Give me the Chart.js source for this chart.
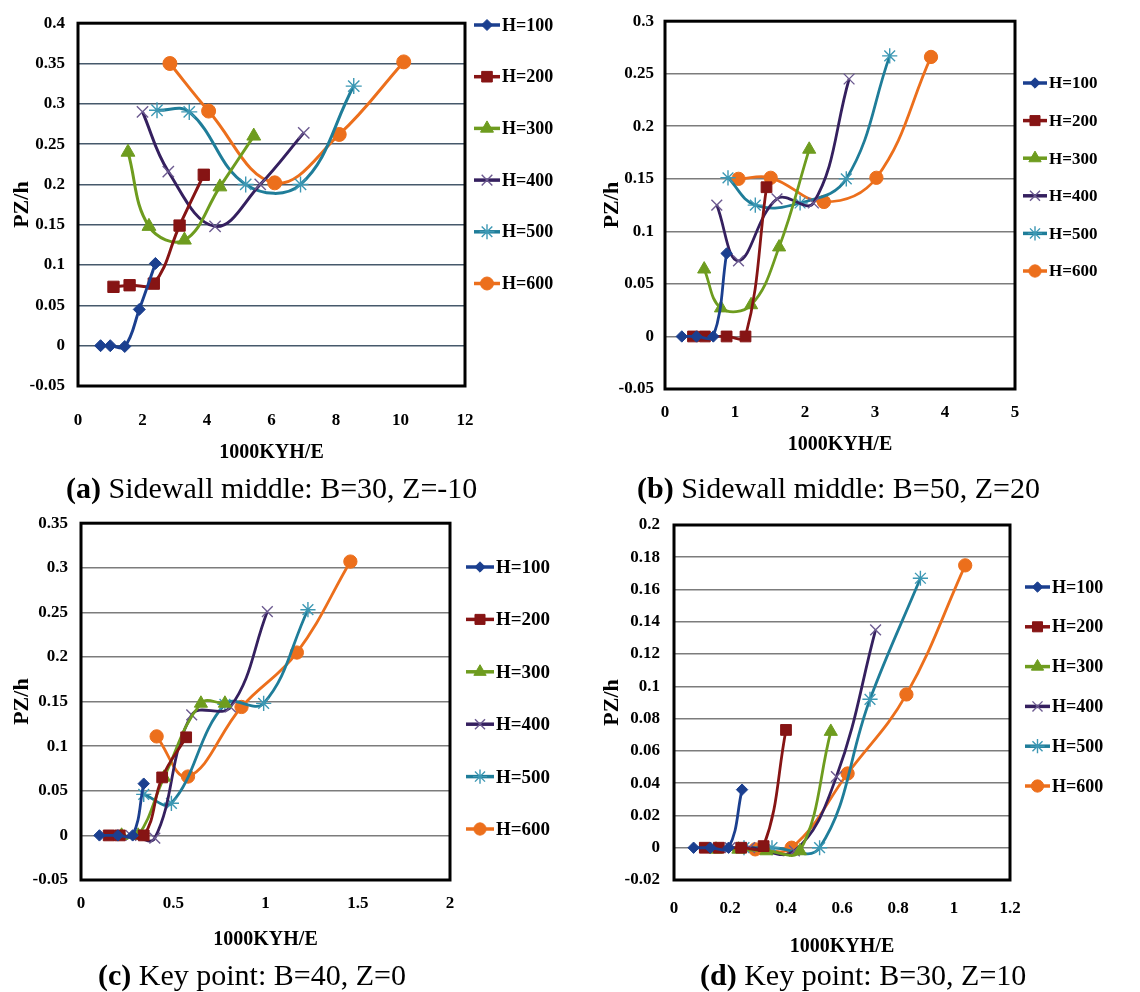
<!DOCTYPE html>
<html>
<head>
<meta charset="utf-8">
<script src="https://cdn.jsdelivr.net/npm/chart.js"></script>
<style>
  html, body { margin: 0; padding: 0; background: #fff; }
  #wrap { position: relative; width: 1140px; height: 992px; overflow: hidden; }
  canvas { position: absolute; }
  .cap {
    position: absolute;
    font-family: "Liberation Serif", "Times New Roman", serif;
    font-size: 30px;
    line-height: 30px;
    white-space: nowrap;
    color: #000;
  }
</style>
</head>
<body>
<div id="wrap">
  <canvas id="chartA" width="570" height="470" style="left:0;top:0"></canvas>
  <canvas id="chartB" width="570" height="470" style="left:570px;top:0"></canvas>
  <canvas id="chartC" width="570" height="470" style="left:0;top:500px"></canvas>
  <canvas id="chartD" width="570" height="470" style="left:570px;top:500px"></canvas>
  <div class="cap" style="left:66px;top:473px"><b>(a)</b> Sidewall middle: B=30, Z=-10</div>
  <div class="cap" style="left:637px;top:473px"><b>(b)</b> Sidewall middle: B=50, Z=20</div>
  <div class="cap" style="left:98px;top:960px"><b>(c)</b> Key point: B=40, Z=0</div>
  <div class="cap" style="left:700px;top:960px"><b>(d)</b> Key point: B=30, Z=10</div>
</div>
<script>
// series names (legend)
const seriesNames = ["H=100", "H=200", "H=300", "H=400", "H=500", "H=600"];

// (a) Sidewall middle: B=30, Z=-10   points are [1000KYH/E, PZ/h]
const aXTicks = [0, 2, 4, 6, 8, 10, 12];
const aYTicks = [-0.05, 0, 0.05, 0.1, 0.15, 0.2, 0.25, 0.3, 0.35, 0.4];
const a100 = [[0.7, 0], [1.0, 0], [1.45, -0.001], [1.9, 0.045], [2.4, 0.102]];
const a200 = [[1.1, 0.073], [1.6, 0.075], [2.35, 0.077], [3.15, 0.149], [3.9, 0.212]];
const a300 = [[1.55, 0.24], [2.2, 0.148], [3.3, 0.131], [4.4, 0.197], [5.45, 0.26]];
const a400 = [[2.0, 0.29], [2.8, 0.216], [4.25, 0.148], [5.65, 0.2], [7.0, 0.264]];
const a500 = [[2.45, 0.292], [3.45, 0.29], [5.2, 0.2], [6.9, 0.2], [8.55, 0.322]];
const a600 = [[2.85, 0.35], [4.05, 0.291], [6.1, 0.202], [8.1, 0.262], [10.1, 0.352]];

// (b) Sidewall middle: B=50, Z=20
const bXTicks = [0, 1, 2, 3, 4, 5];
const bYTicks = [-0.05, 0, 0.05, 0.1, 0.15, 0.2, 0.25, 0.3];
const b100 = [[0.24, 0], [0.45, 0], [0.69, 0], [0.88, 0.079]];
const b200 = [[0.4, 0], [0.57, 0], [0.88, 0], [1.15, 0], [1.45, 0.142]];
const b300 = [[0.56, 0.064], [0.8, 0.027], [1.23, 0.03], [1.63, 0.085], [2.06, 0.178]];
const b400 = [[0.74, 0.125], [1.05, 0.072], [1.6, 0.131], [2.12, 0.127], [2.63, 0.245]];
const b500 = [[0.9, 0.151], [1.29, 0.125], [1.93, 0.127], [2.59, 0.15], [3.21, 0.267]];
const b600 = [[1.05, 0.15], [1.51, 0.151], [2.27, 0.128], [3.02, 0.151], [3.8, 0.266]];

// (c) Key point: B=40, Z=0
const cXTicks = [0, 0.5, 1, 1.5, 2];
const cYTicks = [-0.05, 0, 0.05, 0.1, 0.15, 0.2, 0.25, 0.3, 0.35];
const c100 = [[0.1, 0], [0.2, 0], [0.28, 0], [0.34, 0.058]];
const c200 = [[0.15, 0], [0.21, 0], [0.34, 0], [0.44, 0.065], [0.57, 0.11]];
const c300 = [[0.22, 0], [0.31, 0], [0.45, 0.065], [0.65, 0.148], [0.78, 0.148]];
const c400 = [[0.27, 0], [0.4, -0.003], [0.6, 0.135], [0.81, 0.144], [1.01, 0.251]];
const c500 = [[0.34, 0.046], [0.49, 0.036], [0.78, 0.147], [0.99, 0.148], [1.23, 0.253]];
const c600 = [[0.41, 0.111], [0.58, 0.066], [0.87, 0.144], [1.17, 0.205], [1.46, 0.307]];

// (d) Key point: B=30, Z=10
const dXTicks = [0, 0.2, 0.4, 0.6, 0.8, 1, 1.2];
const dYTicks = [-0.02, 0, 0.02, 0.04, 0.06, 0.08, 0.1, 0.12, 0.14, 0.16, 0.18, 0.2];
const d100 = [[0.07, 0], [0.13, 0], [0.195, 0], [0.243, 0.036]];
const d200 = [[0.11, 0], [0.16, 0], [0.24, 0], [0.32, 0.001], [0.4, 0.073]];
const d300 = [[0.15, -0.001], [0.23, -0.001], [0.33, -0.002], [0.45, -0.002], [0.56, 0.072]];
const d400 = [[0.2, 0], [0.27, 0], [0.43, -0.002], [0.58, 0.044], [0.72, 0.135]];
const d500 = [[0.25, 0], [0.35, 0], [0.52, 0], [0.7, 0.092], [0.88, 0.167]];
const d600 = [[0.29, -0.001], [0.42, 0], [0.62, 0.046], [0.83, 0.095], [1.04, 0.175]];

// look of each series
const lineColors = ["#1b3f8f", "#861414", "#6e9c1f", "#35205f", "#1f7d99", "#ec6f1c"];
const markColors = ["#1b3f8f", "#861414", "#6e9c1f", "#6c5a90", "#3d98b4", "#ec6f1c"];
const shapes = ["rectRot", "rect", "triangle", "crossRot", "star", "circle"];
const radii = [6, 8, 8, 8, 8, 7];
const markWidths = [1, 1, 1, 1.4, 1.4, 1];

const serif = '"Liberation Serif", "Times New Roman", serif';

// black box round the plot area
const plotFrame = {
  id: "plotFrame",
  beforeDatasetsDraw(chart) {
    const a = chart.chartArea;
    const ctx = chart.ctx;
    ctx.save();
    ctx.strokeStyle = "#000";
    ctx.lineWidth = 3;
    ctx.strokeRect(a.left, a.top, a.right - a.left, a.bottom - a.top);
    ctx.restore();
  }
};

// legend: line with marker, then label, at fixed rows
const sideLegend = {
  id: "sideLegend",
  afterDraw(chart, args, opts) {
    const ctx = chart.ctx;
    ctx.save();
    chart.data.datasets.forEach(function (ds, i) {
      const y = opts.y0 + i * opts.dy;
      ctx.strokeStyle = ds.borderColor;
      ctx.lineWidth = 3.5;
      ctx.beginPath();
      ctx.moveTo(opts.x0, y);
      ctx.lineTo(opts.x1, y);
      ctx.stroke();
      ctx.fillStyle = ds.pointBackgroundColor;
      ctx.strokeStyle = ds.pointBorderColor;
      ctx.lineWidth = ds.pointBorderWidth;
      Chart.helpers.drawPoint(ctx, {
        pointStyle: ds.pointStyle,
        rotation: 0,
        radius: ds.pointRadius - 0.5,
        borderWidth: ds.pointBorderWidth
      }, (opts.x0 + opts.x1) / 2, y);
      ctx.fillStyle = "#000";
      ctx.font = "bold " + opts.size + "px " + serif;
      ctx.textAlign = "left";
      ctx.textBaseline = "middle";
      ctx.fillText(ds.label, opts.x1 + 2, y + 1);
    });
    ctx.restore();
  }
};

function makeChart(id, sets, xTicks, yTicks, L) {
  const datasets = sets.map(function (pts, i) {
    return {
      label: seriesNames[i],
      data: pts.map(function (p) { return { x: p[0], y: p[1] }; }),
      showLine: true,
      tension: 0.4,
      borderColor: lineColors[i],
      backgroundColor: lineColors[i],
      borderWidth: L.lw,
      pointStyle: shapes[i],
      pointRadius: radii[i] * L.ms,
      pointBackgroundColor: markColors[i],
      pointBorderColor: markColors[i],
      pointBorderWidth: markWidths[i]
    };
  });

  return new Chart(document.getElementById(id), {
    type: "scatter",
    data: { datasets: datasets },
    options: {
      responsive: false,
      animation: false,
      devicePixelRatio: 1,
      layout: { padding: { top: L.top, right: L.right, left: 0, bottom: 0 } },
      plugins: {
        legend: { display: false },
        tooltip: { enabled: false },
        sideLegend: { x0: L.lx0, x1: L.lx1, y0: L.ly0, dy: L.ldy, size: L.lsize }
      },
      scales: {
        x: {
          type: "linear",
          min: xTicks[0],
          max: xTicks[xTicks.length - 1],
          afterBuildTicks: function (s) { s.ticks = xTicks.map(function (v) { return { value: v }; }); },
          afterFit: function (s) { s.height = L.xh; },
          grid: { display: false, drawTicks: false },
          border: { display: false },
          ticks: {
            padding: L.xtp,
            color: "#000",
            autoSkip: false,
            maxRotation: 0,
            font: { family: serif, size: 17, weight: "bold" },
            callback: function (v) { return String(v); }
          },
          title: {
            display: true,
            text: "1000KYH/E",
            color: "#000",
            font: { family: serif, size: 20, weight: "bold" },
            padding: { top: 0, bottom: L.xtb }
          }
        },
        y: {
          type: "linear",
          min: yTicks[0],
          max: yTicks[yTicks.length - 1],
          afterBuildTicks: function (s) { s.ticks = yTicks.map(function (v) { return { value: v }; }); },
          afterFit: function (s) { s.width = L.yw; },
          grid: { color: L.gridColor, lineWidth: 1.6, drawTicks: false },
          border: { display: false },
          ticks: {
            padding: L.ytp,
            color: "#000",
            autoSkip: false,
            font: { family: serif, size: 17, weight: "bold" },
            callback: function (v) { return String(v); }
          },
          title: {
            display: true,
            text: "PZ/h",
            color: "#000",
            font: { family: serif, size: 22, weight: "bold" },
            padding: { top: L.ytt, bottom: 0 }
          }
        }
      }
    },
    plugins: [plotFrame, sideLegend]
  });
}

makeChart("chartA", [a100, a200, a300, a400, a500, a600], aXTicks, aYTicks, {
  top: 18, right: 105, yw: 78, xh: 84, xtp: 24, xtb: 5, ytp: 13, ytt: 9, lw: 3, ms: 1,
  gridColor: "#46596b", lx0: 474, lx1: 500, ly0: 25, ldy: 51.7, lsize: 18
});
makeChart("chartB", [b100, b200, b300, b400, b500, b600], bXTicks, bYTicks, {
  top: 21, right: 125, yw: 95, xh: 81, xtp: 13, xtb: 13, ytp: 11, ytt: 29, lw: 2.8, ms: 0.95,
  gridColor: "#7c7c7c", lx0: 453, lx1: 477, ly0: 83, ldy: 37.6, lsize: 17
});
makeChart("chartC", [c100, c200, c300, c400, c500, c600], cXTicks, cYTicks, {
  top: 20, right: 120, yw: 81, xh: 90, xtp: 13, xtb: 18, ytp: 13, ytt: 9, lw: 2.8, ms: 0.95,
  gridColor: "#7c7c7c", lx0: 466, lx1: 494, ly0: 67, ldy: 52.4, lsize: 19
});
makeChart("chartD", [d100, d200, d300, d400, d500, d600], dXTicks, dYTicks, {
  top: 25, right: 130, yw: 104, xh: 90, xtp: 18, xtb: 11, ytp: 14, ytt: 29, lw: 2.8, ms: 0.95,
  gridColor: "#7c7c7c", lx0: 455, lx1: 480, ly0: 87, ldy: 39.8, lsize: 18
});
</script>
</body>
</html>
